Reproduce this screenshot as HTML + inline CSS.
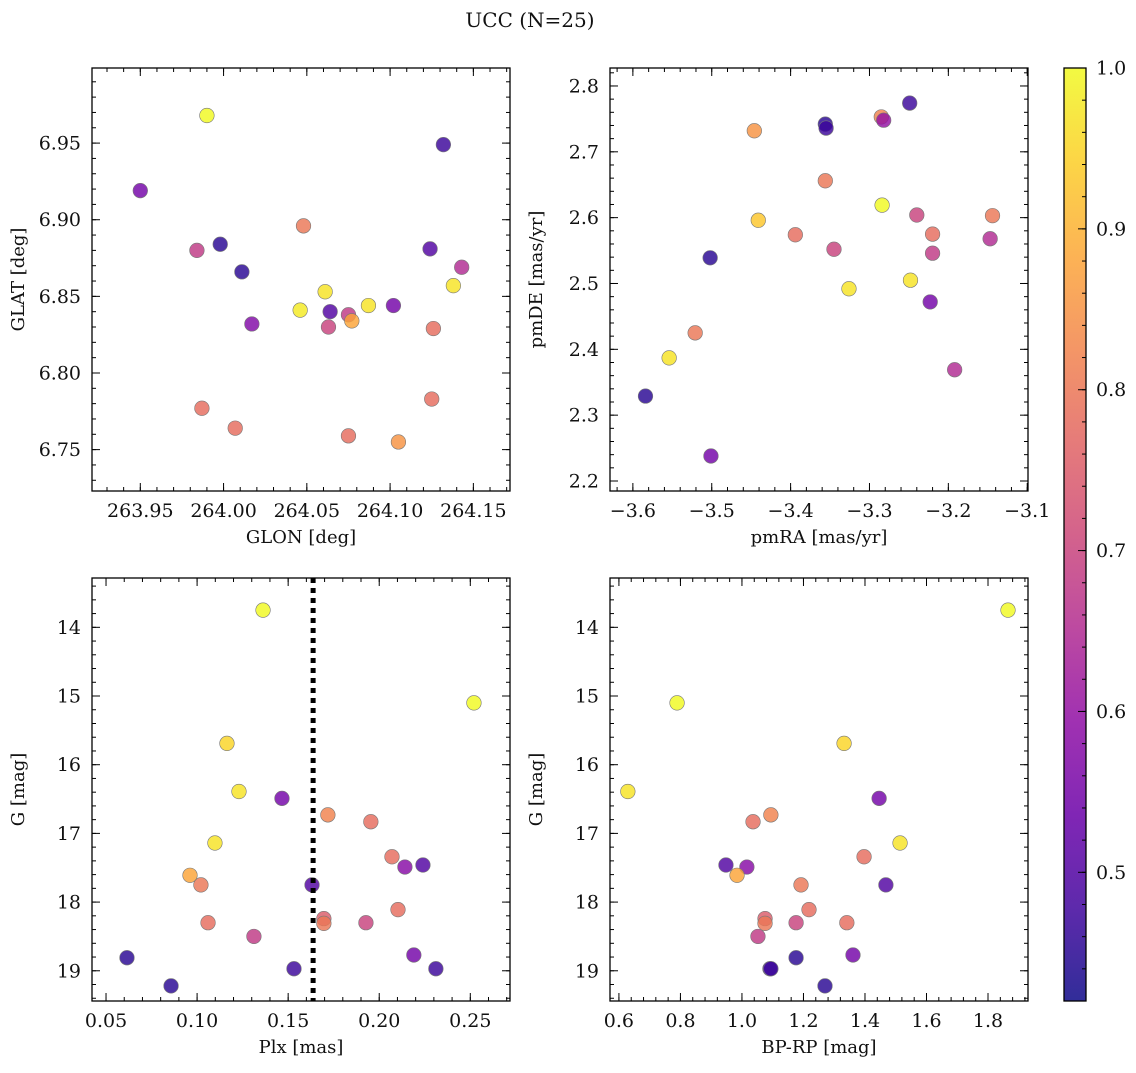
<!DOCTYPE html>
<html><head><meta charset="utf-8"><style>
html,body{margin:0;padding:0;background:#fff;}
svg text{font-family:"DejaVu Serif","Liberation Serif",serif;fill:#111;}
</style></head><body>
<svg id="fig" width="1136" height="1068" viewBox="0 0 1136 1068" xmlns="http://www.w3.org/2000/svg">
<text x="530" y="27" font-size="20" text-anchor="middle">UCC (N=25)</text>
</svg>
<script>
// ---- data ----
const glon = [263.990,263.950,263.984,263.998,264.011,264.017,263.987,264.007,264.048,264.046,264.061,264.064,264.063,264.075,264.077,264.087,264.075,264.102,264.105,264.132,264.124,264.143,264.138,264.126,264.125];
const glat = [6.968,6.919,6.880,6.884,6.866,6.832,6.777,6.764,6.896,6.841,6.853,6.840,6.830,6.838,6.834,6.844,6.759,6.844,6.755,6.949,6.881,6.869,6.857,6.829,6.783];
const probA = [1.0,0.55,0.68,0.45,0.45,0.57,0.78,0.78,0.8,0.98,0.97,0.5,0.7,0.68,0.88,0.97,0.78,0.55,0.85,0.47,0.5,0.65,0.97,0.78,0.78];

const pmra = [-3.584,-3.554,-3.521,-3.501,-3.502,-3.441,-3.446,-3.394,-3.356,-3.355,-3.356,-3.345,-3.326,-3.285,-3.282,-3.284,-3.249,-3.248,-3.240,-3.220,-3.220,-3.223,-3.192,-3.144,-3.147];
const pmde = [2.329,2.387,2.425,2.238,2.539,2.596,2.732,2.574,2.742,2.736,2.656,2.552,2.492,2.753,2.748,2.619,2.774,2.505,2.604,2.575,2.546,2.472,2.369,2.603,2.568];
const probB = [0.45,0.97,0.8,0.55,0.45,0.93,0.85,0.78,0.45,0.47,0.8,0.7,0.97,0.82,0.6,1.0,0.47,0.97,0.7,0.78,0.68,0.55,0.65,0.8,0.65];

const plx = [0.1362,0.2520,0.1164,0.1230,0.1466,0.1098,0.1718,0.1954,0.2070,0.2141,0.2240,0.0961,0.1021,0.1631,0.1060,0.1696,0.1696,0.1927,0.2103,0.1312,0.2190,0.0615,0.0857,0.1532,0.2311];
const gmagC = [13.75,15.10,15.69,16.39,16.49,17.14,16.73,16.83,17.34,17.49,17.46,17.61,17.75,17.75,18.30,18.24,18.31,18.30,18.11,18.50,18.77,18.81,19.22,18.97,18.97];
const probC = [1.0,1.0,0.95,0.97,0.55,0.97,0.82,0.78,0.78,0.58,0.5,0.88,0.8,0.5,0.78,0.75,0.8,0.7,0.78,0.68,0.55,0.45,0.45,0.47,0.47];
const plxLine = 0.1637;

const bprp = [1.865,0.789,0.629,1.332,1.446,1.514,1.094,1.036,1.397,0.948,1.016,0.984,1.468,1.192,1.218,1.075,1.075,1.176,1.341,1.052,1.361,1.176,1.270,1.091,1.094];
const gmagD = [13.75,15.10,16.39,15.69,16.49,17.14,16.73,16.83,17.34,17.46,17.49,17.61,17.75,17.75,18.11,18.24,18.31,18.30,18.30,18.50,18.77,18.81,19.22,18.97,18.97];
const probD = [1.0,1.0,0.97,0.95,0.55,0.97,0.82,0.78,0.78,0.5,0.58,0.88,0.5,0.8,0.78,0.75,0.8,0.7,0.78,0.68,0.55,0.45,0.45,0.47,0.47];

const cbTicks = [0.5,0.6,0.7,0.8,0.9,1.0];
const cMin = 0.42, cMax = 1.0;

// ---- rendering ----
const NS = 'http://www.w3.org/2000/svg';
const svg = document.getElementById('fig');
function mk(tag, attrs, parent){ const e=document.createElementNS(NS,tag); for(const k in attrs) e.setAttribute(k,attrs[k]); (parent||svg).appendChild(e); return e; }
const stops=[[0.0,[13,8,135]],[0.1,[65,4,157]],[0.2,[106,0,168]],[0.3,[143,13,164]],[0.4,[177,42,144]],[0.5,[204,71,120]],[0.6,[225,100,98]],[0.7,[242,132,75]],[0.8,[252,166,54]],[0.9,[252,206,37]],[1.0,[240,249,33]]];
function plasma(t){ t=Math.max(0,Math.min(1,t)); for(let i=0;i<stops.length-1;i++){ const a=stops[i],b=stops[i+1]; if(t<=b[0]){ const f=(t-a[0])/(b[0]-a[0]); return 'rgb('+a[1].map((v,j)=>Math.round(v+(b[1][j]-v)*f)).join(',')+')'; } } return 'rgb(240,249,33)'; }
function cnorm(v){ return (v-cMin)/(cMax-cMin); }
function fmt(v,d){ return (v<0?'\u2212':'')+Math.abs(v).toFixed(d); }
const TF = 19, LF = 18;

function panel(name, box, xd, yd, xlab, ylab, xMajor, xMinor, yMajor, yMinor, xdec, ydec, xs, ys, cs, invertY){
  const g = mk('g',{});
  
  
  const X = v => box.x + (v-xd[0])/(xd[1]-xd[0])*box.w;
  const Y = invertY ? (v => box.y + (v-yd[0])/(yd[1]-yd[0])*box.h) : (v => box.y + box.h - (v-yd[0])/(yd[1]-yd[0])*box.h);
  const ymin=Math.min(yd[0],yd[1]), ymax=Math.max(yd[0],yd[1]);
  const tk = mk('g',{stroke:'#000','stroke-width':1},g);
  
  
  for(let v=Math.ceil(xd[0]/xMinor-1e-6)*xMinor; v<=xd[1]+1e-9; v+=xMinor){ const x=X(v); mk('line',{x1:x,x2:x,y1:box.y+box.h,y2:box.y+box.h-4},tk); mk('line',{x1:x,x2:x,y1:box.y,y2:box.y+4},tk); }
  for(let v=Math.ceil(ymin/yMinor-1e-6)*yMinor; v<=ymax+1e-9; v+=yMinor){ const y=Y(v); mk('line',{x1:box.x,x2:box.x+4,y1:y,y2:y},tk); mk('line',{x1:box.x+box.w,x2:box.x+box.w-4,y1:y,y2:y},tk); }
  for(const v of xMajor){ const x=X(v); mk('line',{x1:x,x2:x,y1:box.y+box.h,y2:box.y+box.h-8},tk); mk('line',{x1:x,x2:x,y1:box.y,y2:box.y+8},tk);
    const t=mk('text',{x:x,y:box.y+box.h+26,'font-size':TF,'text-anchor':'middle'},g); t.textContent=fmt(v,xdec);
    
     }
  for(const v of yMajor){ const y=Y(v); mk('line',{x1:box.x,x2:box.x+8,y1:y,y2:y},tk); mk('line',{x1:box.x+box.w,x2:box.x+box.w-8,y1:y,y2:y},tk);
    const t=mk('text',{x:box.x-11,y:y+6.5,'font-size':TF,'text-anchor':'end'},g); t.textContent=fmt(v,ydec);
    
     }
  const xl=mk('text',{x:box.x+box.w/2,y:box.y+box.h+52,'font-size':LF,'text-anchor':'middle'},g); xl.textContent=xlab;
  
  
  const yx = box.x-68, yy=box.y+box.h/2;
  const yl=mk('text',{x:yx,y:yy,'font-size':LF,'text-anchor':'middle',transform:'rotate(-90 '+yx+' '+yy+')'},g); yl.textContent=ylab;
  
  
  const pts=mk('g',{},g);
  
  
  for(let i=0;i<xs.length;i++){
    const c=mk('circle',{cx:X(xs[i]),cy:Y(ys[i]),r:7.3,fill:plasma(cnorm(cs[i])),'fill-opacity':0.82,stroke:'#777','stroke-width':0.6},pts);
    
    
  }
  const fr=mk('rect',{x:box.x,y:box.y,width:box.w,height:box.h,fill:'none',stroke:'#000','stroke-width':1.3},g);
  
  
  return {X,Y,g};
}
function rng(a,b,s){ const r=[]; for(let v=a; v<=b+1e-9; v+=s) r.push(+v.toFixed(6)); return r; }

panel('glon-glat-panel',{x:92,y:68,w:418,h:423},[263.921,264.172],[6.723,6.999],'GLON [deg]','GLAT [deg]',
  rng(263.95,264.15,0.05),0.01,rng(6.75,6.95,0.05),0.01,2,2,glon,glat,probA,false);
panel('pm-panel',{x:610,y:68,w:418,h:423},[-3.629,-3.099],[2.1848,2.8273],'pmRA [mas/yr]','pmDE [mas/yr]',
  rng(-3.6,-3.1,0.1),0.02,rng(2.2,2.8,0.1),0.02,1,1,pmra,pmde,probB,false);
const p3 = panel('plx-g-panel',{x:92,y:578,w:418,h:423},[0.0423,0.2718],[13.282,19.44],'Plx [mas]','G [mag]',
  rng(0.05,0.25,0.05),0.01,rng(14,19,1),0.2,2,0,plx,gmagC,probC,true);
const vl = mk('line',{x1:p3.X(plxLine),x2:p3.X(plxLine),y1:578,y2:1001,stroke:'#000','stroke-width':5,'stroke-dasharray':'5 5'});


panel('cmd-panel',{x:610,y:578,w:418,h:423},[0.571,1.93],[13.282,19.44],'BP-RP [mag]','G [mag]',
  rng(0.6,1.8,0.2),0.04,rng(14,19,1),0.2,1,0,bprp,gmagD,probD,true);

// colorbar
const cb = {x:1064,y:68,w:22,h:933};
const cbg = mk('g',{});


const defs = mk('defs',{},cbg);
const lg = mk('linearGradient',{id:'cbgrad',x1:0,y1:1,x2:0,y2:0},defs);
for(let i=0;i<=20;i++){ const t=i/20; mk('stop',{offset:t,'stop-color':plasma(t),'stop-opacity':0.85},lg); }
const cbr=mk('rect',{x:cb.x,y:cb.y,width:cb.w,height:cb.h,fill:'url(#cbgrad)',stroke:'#000','stroke-width':1.3},cbg);


const CY = v => cb.y + cb.h - (v-cMin)/(cMax-cMin)*cb.h;
for(let v=0.44; v<=1.0001; v+=0.02){ const y=CY(v); mk('line',{x1:cb.x+cb.w,x2:cb.x+cb.w-4,y1:y,y2:y,stroke:'#000'},cbg); }
for(const v of cbTicks){ const y=CY(v); mk('line',{x1:cb.x+cb.w,x2:cb.x+cb.w-8,y1:y,y2:y,stroke:'#000'},cbg);
  const t=mk('text',{x:cb.x+cb.w+10,y:y+6.5,'font-size':TF},cbg); t.textContent=v.toFixed(1);
  
   }
</script>
</body></html>
